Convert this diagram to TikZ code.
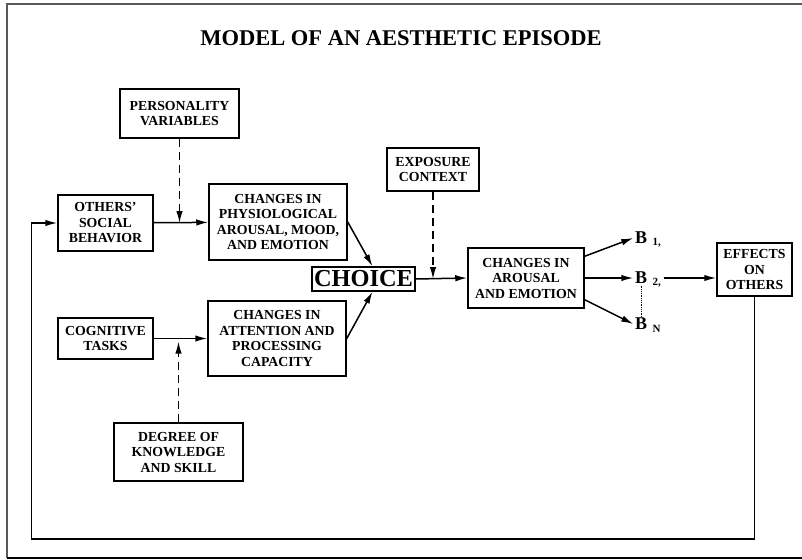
\documentclass[tikz,border=0pt]{standalone}
\usepackage{fontspec}
\setmainfont{Liberation Serif}
\usetikzlibrary{arrows.meta,positioning,calc}

\begin{document}
\begin{tikzpicture}[x=1pt,y=-1pt,line width=1.5pt,>={Latex[length=12pt,width=6.5pt]},
box/.style={draw,align=center,inner sep=1pt,font=\bfseries\fontsize{13.8}{15.5}\selectfont},
infl/.style={->,dash pattern=on 8pt off 5pt},
bvar/.style={inner sep=1pt,font=\bfseries\fontsize{18}{18}\selectfont},
bsub/.style={inner sep=0pt,anchor=west,font=\bfseries\fontsize{11}{11}\selectfont}]
\useasboundingbox (0,0) rectangle (802,559);
\draw[gray!70!black,line width=1.6pt] (7,558) -- (7,4) -- (802,4);
\draw[line width=1.6pt] (7,558) -- (802,558);
\node[font=\bfseries\fontsize{22.5}{24}\selectfont](title) at (401,38){MODEL OF AN AESTHETIC EPISODE};
% left column
\node[box,minimum width=119pt,minimum height=49pt](pers) at (179.5,113.5){PERSONALITY\\VARIABLES};
\node[box,minimum width=95pt,minimum height=56pt](others) at (105.5,223){OTHERS\symbol{39}\\SOCIAL\\BEHAVIOR};
\node[box,minimum width=95pt,minimum height=41pt](cog) at (105.5,338.5){COGNITIVE\\TASKS};
\node[box,minimum width=129pt,minimum height=58pt](degree) at (178.5,452){DEGREE OF\\KNOWLEDGE\\AND SKILL};
% middle
\node[box,minimum width=138pt,minimum height=76pt](physio) at (278,222){CHANGES IN\\PHYSIOLOGICAL\\AROUSAL, MOOD,\\AND EMOTION};
\node[box,minimum width=138pt,minimum height=75pt](attn) at (277,338.5){CHANGES IN\\ATTENTION AND\\PROCESSING\\CAPACITY};
\node[draw,inner sep=0.5pt,minimum width=103pt,minimum height=24pt,font=\bfseries\fontsize{24.4}{25}\selectfont](choice) at (363.5,279){CHOICE};
\node[box,minimum width=92pt,minimum height=43pt](expo) at (433,169.5){EXPOSURE\\CONTEXT};
\node[box,minimum width=116pt,minimum height=60pt](arousal) at (526,278){CHANGES IN\\AROUSAL\\AND EMOTION};
% behaviours
\node[bvar](b1) at (641,238){B};
\node[bsub](b1s) at ([xshift=3pt,yshift=-5pt]b1.east){1,};
\node[bvar](b2) at (641,278){B};
\node[bsub](b2s) at ([xshift=3pt,yshift=-5pt]b2.east){2,};
\node[bvar](bn) at (641,324){B};
\node[bsub](bns) at ([xshift=3pt,yshift=-5pt]bn.east){N};
\node[box,minimum width=75pt,minimum height=53pt](effects) at (754.5,269.5){EFFECTS\\ON\\OTHERS};
\coordinate (fb) at (31.5,539);
% connectors
\draw[->](others)--(physio);\draw[->](cog)--(attn);
\draw[infl](pers.south)--(pers.south|-others.east);
\draw[infl](degree.north)--([yshift=-3pt]degree.north|-cog.east);
\draw[infl](expo.south)--(expo.south|-choice.east);
\draw[->](physio.east)--(choice.55);\draw[->](attn.east)--(choice.-55);
\draw[->](choice.east)--(arousal.west);
\draw[->]([yshift=-9pt]arousal.north east)--(b1.west);
\draw[->](arousal.east)--(b2.west);
\draw[->]([yshift=9pt]arousal.south east)--(bn.west);
\draw[densely dotted,line width=.8pt](b2.south)--(bn.north);
\draw[->]([xshift=2pt]b2s.east|-b2.east)--(effects.west|-b2.east);
\draw[->](effects.south)|-(fb)|-(others.west);
\end{tikzpicture}
\end{document}
